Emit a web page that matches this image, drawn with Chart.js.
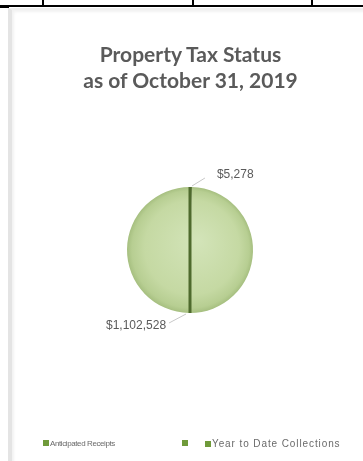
<!DOCTYPE html>
<html>
<head>
<meta charset="utf-8">
<script src="https://cdn.jsdelivr.net/npm/chart.js@4.4.0/dist/chart.umd.min.js"></script>
<style>
  body { margin: 0; background: #fff; width: 363px; height: 461px; overflow: hidden; position: relative; font-family: "Liberation Sans", Arial, sans-serif; }
  .hline { position: absolute; left: 0; top: 5px; width: 363px; height: 2px; background: #000; }
  .hstub { position: absolute; left: 0; top: 6px; width: 9px; height: 2px; background: #000; }
  .vline { position: absolute; top: 0; width: 2px; height: 6px; background: #000; }
  #box { position: absolute; left: 8px; top: 8px; width: 360px; height: 460px; background: #fff;
         border-left: 4px solid #e4e4e4; border-top: 2px solid #efefef; box-shadow: inset 2px 2px 3px #f2f2f2; }
  #title { position: absolute; left: 0; top: 41px; width: 381px; text-align: center; font-family: Lato, "Open Sans", sans-serif;
           font-weight: bold; font-size: 21px; line-height: 26px; color: #5a5a5a; filter: blur(0.4px); }
  #wrap { position: absolute; left: 80px; top: 150px; width: 220px; height: 200px; filter: blur(0.3px); }
  #legend { position: absolute; top: 438px; left: 0; width: 363px; height: 12px; color: #6a6a6a; filter: blur(0.4px); }
  #legend span.item { position: absolute; white-space: nowrap; line-height: 12px; }
  #legend i { display: inline-block; width: 6px; height: 6px; background: #6f9a3a; margin-right: 1px; letter-spacing: 0; }
</style>
</head>
<body>
<div class="hline"></div>
<div class="hstub"></div>
<div class="vline" style="left:42px"></div>
<div class="vline" style="left:192px"></div>
<div class="vline" style="left:311px"></div>
<div id="box"></div>
<div id="title">Property Tax Status<br>as of October 31, 2019</div>
<div id="wrap"><canvas id="myChart"></canvas></div>
<div id="legend"></div>
<script>
const categories = ['Anticipated Receipts', '', 'Year to Date Collections'];
const amounts = [5278, 0, 1102528];
const valueLabels = ['$5,278', '', '$1,102,528'];

// where each legend entry starts, its text size and spacing
const legendLeft = [43, 182, 205];
const legendSize = [8, 8, 10];
const legendSpacing = [-0.4, 0, 0.9];

function buildLegend() {
  const legend = document.getElementById('legend');
  categories.forEach((name, i) => {
    const item = document.createElement('span');
    item.className = 'item';
    item.style.left = legendLeft[i] + 'px';
    item.style.fontSize = legendSize[i] + 'px';
    item.style.letterSpacing = legendSpacing[i] + 'px';
    item.innerHTML = '<i></i>' + name;
    legend.appendChild(item);
  });
}

function pieFill(context) {
  const chart = context.chart;
  const area = chart.chartArea;
  if (!area) return '#c6dba6';
  if (context.dataIndex === 0) return '#4e6a2d';
  const cx = (area.left + area.right) / 2;
  const cy = (area.top + area.bottom) / 2;
  const r = Math.min(area.right - area.left, area.bottom - area.top) / 2;
  const g = chart.ctx.createRadialGradient(cx + 8, cy - 10, 0, cx, cy, r);
  g.addColorStop(0, '#d3e4b9');
  g.addColorStop(0.75, '#c5d9a3');
  g.addColorStop(0.93, '#b7ce92');
  g.addColorStop(1, '#a6bf80');
  return g;
}

// dark seam through the pie and the value labels with leader lines
const pieExtras = {
  id: 'pieExtras',
  afterDatasetsDraw(chart) {
    const ctx = chart.ctx;
    const meta = chart.getDatasetMeta(0);
    const first = meta.data[0];
    ctx.save();
    const a = first.startAngle;
    const r = first.outerRadius;
    ctx.strokeStyle = '#4e6a2d';
    ctx.lineWidth = 3;
    ctx.beginPath();
    ctx.moveTo(first.x + Math.cos(a) * r, first.y + Math.sin(a) * r);
    ctx.lineTo(first.x - Math.cos(a) * r, first.y - Math.sin(a) * r);
    ctx.stroke();

    ctx.font = '12px "Liberation Sans", sans-serif';
    ctx.fillStyle = '#5a5a5a';
    ctx.textBaseline = 'middle';
    meta.data.forEach((arc, i) => {
      if (!amounts[i]) return;
      const mid = (arc.startAngle + arc.endAngle) / 2;
      const ex = arc.x + Math.cos(mid) * arc.outerRadius;
      const ey = arc.y + Math.sin(mid) * arc.outerRadius;
      const right = Math.cos(mid) >= -0.001 && Math.sin(mid) < 0;
      const lx = ex + (right ? 14 : -20);
      const ly = ey + (right ? -9 : 10);
      ctx.strokeStyle = '#c8c8c8';
      ctx.lineWidth = 1;
      ctx.beginPath();
      ctx.moveTo(ex + (right ? 1 : -3), ey + (right ? -1 : 1));
      ctx.lineTo(lx, ly);
      ctx.stroke();
      ctx.textAlign = right ? 'left' : 'right';
      ctx.fillText(valueLabels[i], lx + (right ? 12 : -3), ly - (right ? 3 : -3));
    });
    ctx.restore();
  }
};

function initChart() {
  const ctx = document.getElementById('myChart');
  return new Chart(ctx, {
    type: 'pie',
    data: {
      labels: categories,
      datasets: [{
        data: amounts,
        backgroundColor: pieFill,
        borderWidth: 0
      }]
    },
    options: {
      responsive: true,
      maintainAspectRatio: false,
      animation: false,
      layout: { padding: { left: 47, right: 47, top: 37, bottom: 37 } },
      plugins: {
        legend: { display: false },
        tooltip: { enabled: false }
      }
    },
    plugins: [pieExtras]
  });
}

buildLegend();
initChart();
</script>
</body>
</html>
